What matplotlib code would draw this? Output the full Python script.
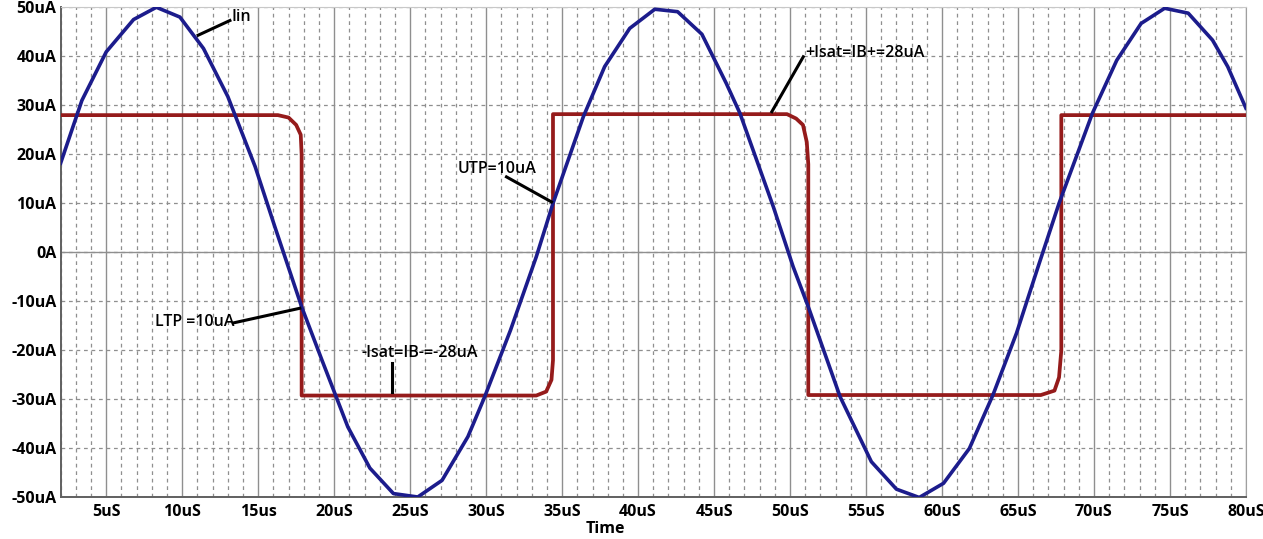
import numpy as np
import matplotlib.pyplot as plt

# Iin (синус), точки, мкс / мкА
t_in = [2.0, 3.4, 5.0, 6.8, 8.3, 9.85, 11.4, 13.0, 14.8, 16.1, 17.86, 19.2, 20.9,
        22.35, 23.9, 25.5, 27.1, 28.8, 29.9, 31.6, 33.3, 34.4, 36.4, 37.8, 39.45,
        41.1, 42.6, 44.2, 45.8, 46.7, 48.9, 50.2, 51.2, 53.3, 55.35, 57.0, 58.5,
        60.1, 61.8, 63.35, 64.9, 66.4, 67.7, 69.9, 71.5, 73.1, 74.65, 76.2, 77.8,
        78.8, 80.0]
i_in = [18.2, 31.0, 40.9, 47.5, 50.0, 48.0, 41.6, 31.8, 17.5, 5.2, -11.1, -22.0, -35.6,
        -44.0, -49.2, -49.9, -46.5, -37.6, -29.5, -15.9, -0.9, 10.0, 27.7, 37.9, 45.7,
        49.6, 49.1, 44.5, 34.5, 28.4, 9.3, -2.9, -11.1, -29.5, -42.7, -48.3, -50.0,
        -47.1, -40.0, -29.1, -16.5, -2.2, 10.0, 28.4, 39.2, 46.7, 49.8, 48.8, 43.3,
        37.9, 29.4]

# выход компаратора (прямоугольник)
t_out = [2.0, 16.3, 17.0, 17.5, 17.8, 17.86, 17.86, 33.3, 33.95, 34.3, 34.4, 34.4,
         49.8, 50.4, 50.85, 51.1, 51.2, 51.2, 66.5, 67.4, 67.7, 67.85, 67.85, 80.0]
i_out = [28.0, 28.0, 27.5, 26.0, 24.0, 20.0, -29.2, -29.2, -28.4, -26.0, -22.0, 28.2,
         28.2, 27.3, 26.0, 22.5, 18.0, -29.1, -29.1, -28.2, -25.5, -20.0, 28.0, 28.0]

x_ticks = list(range(5, 81, 5))
x_labels = ['5uS', '10uS', '15us', '20uS', '25uS', '30uS', '35uS', '40uS', '45uS',
            '50uS', '55uS', '60uS', '65uS', '70uS', '75uS', '80uS']
y_ticks = list(range(-50, 51, 10))
y_labels = ['-50uA', '-40uA', '-30uA', '-20uA', '-10uA', '0A',
            '10uA', '20uA', '30uA', '40uA', '50uA']

plt.rcParams['font.family'] = ['Open Sans', 'DejaVu Sans']

fig = plt.figure(figsize=(12.63, 5.39), dpi=100)
ax = fig.add_axes([0.048, 0.077, 0.9385, 0.9095])

# сетка
ax.set_xticks(x_ticks)
ax.set_xticks(np.arange(2, 81, 1), minor=True)
ax.set_yticks(y_ticks)
ax.grid(which='major', axis='x', color='#8f8f8f', lw=1.0, ls='-')
ax.grid(which='minor', axis='x', color='#8f8f8f', lw=0.9, ls=(0, (3, 3)))
ax.grid(which='major', axis='y', color='#8f8f8f', lw=0.9, ls=(0, (3, 3)))
ax.axhline(0, color='#8f8f8f', lw=1.0)
ax.set_axisbelow(True)

ax.plot(t_out, i_out, color='#951b1b', lw=2.7, solid_joinstyle='round', zorder=3)
ax.plot(t_in, i_in, color='#1c1c8c', lw=2.6, solid_joinstyle='round', zorder=4)

ax.set_xlim(2, 80)
ax.set_ylim(-50, 50)
ax.set_xticklabels(x_labels, fontsize=11.5, fontweight='bold')
ax.set_yticklabels(y_labels, fontsize=11.5, fontweight='bold')
ax.tick_params(which='both', length=0)
ax.tick_params(axis='x', pad=5)
ax.tick_params(axis='y', pad=3)

for s in ['left', 'bottom']:
    ax.spines[s].set_color('#606060')
    ax.spines[s].set_linewidth(1.4)
ax.spines['top'].set_color('#c8c8c8')
ax.spines['right'].set_color('#a0a0a0')

fig.text(0.479, 0.019, 'Time', fontsize=11.5, fontweight='bold', ha='center', va='center')

# подписи со стрелками-линиями
fs = 11.5
ax.text(13.25, 48.0, 'Iin', fontsize=fs, fontweight='semibold', va='center')
ax.plot([11.05, 13.14], [44.3, 47.3], color='black', lw=2.2, zorder=5)
ax.text(8.2, -14.2, 'LTP =10uA', fontsize=fs, fontweight='semibold', va='center')
ax.plot([13.35, 17.74], [-14.4, -11.4], color='black', lw=2.2, zorder=5)
ax.text(28.1, 17.1, 'UTP=10uA', fontsize=fs, fontweight='semibold', va='center')
ax.plot([31.34, 34.3], [15.4, 10.3], color='black', lw=2.2, zorder=5)
ax.text(21.8, -20.6, '-Isat=IB-=-28uA', fontsize=fs, fontweight='semibold', va='center')
ax.plot([23.8, 23.8], [-22.6, -28.5], color='black', lw=2.2, zorder=5)
ax.text(50.97, 40.6, '+Isat=IB+=28uA', fontsize=fs, fontweight='semibold', va='center')
ax.plot([48.8, 50.87], [28.7, 39.9], color='black', lw=2.2, zorder=5)

plt.savefig('out.png', dpi=100)
